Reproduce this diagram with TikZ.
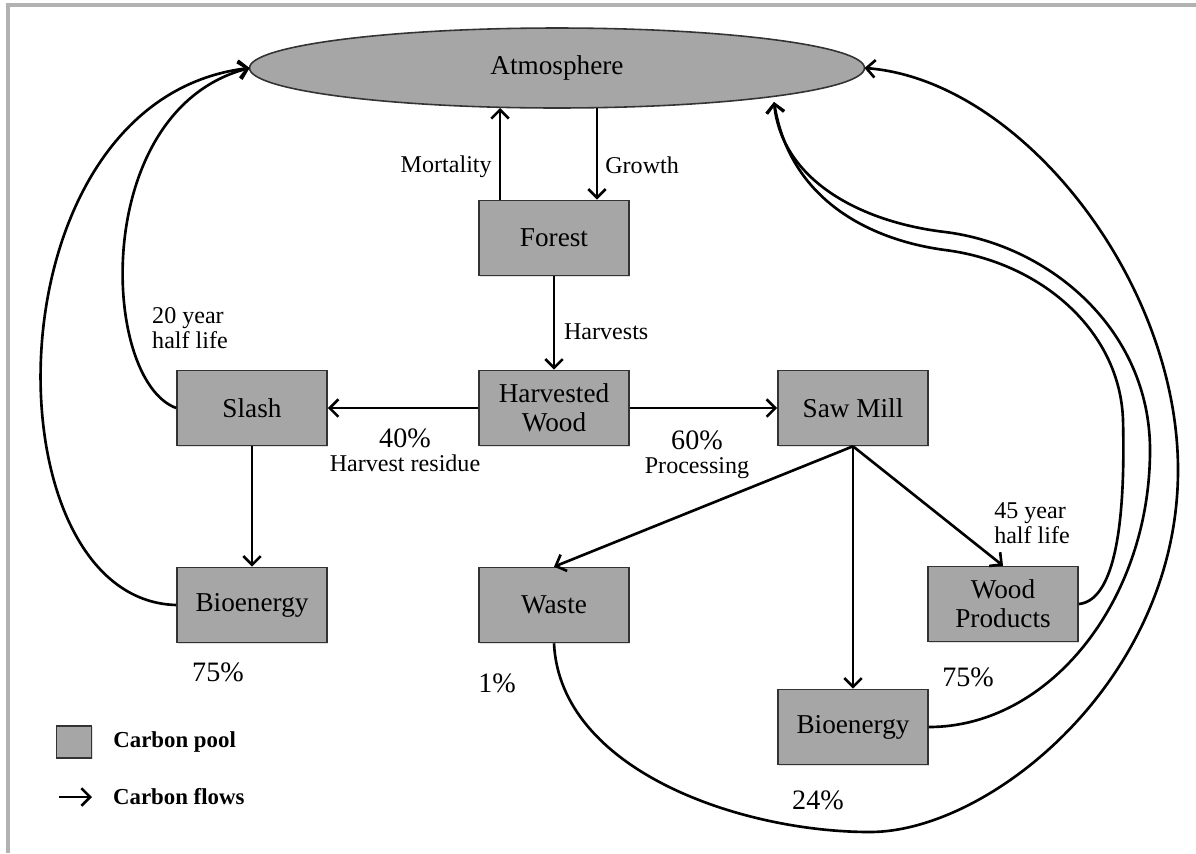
\documentclass[tikz,border=0pt]{standalone}
\usepackage{fontspec}
\setmainfont{Liberation Serif}
\usetikzlibrary{positioning,arrows.meta,shapes.geometric,shadows}

\tikzset{
  pool/.style={draw=black!80, fill=black!35, line width=0.9pt, minimum width=3cm,
    minimum height=1.5cm, align=center, font=\fontsize{15.5}{16.5}\selectfont,
    drop shadow={opacity=0.25, shadow xshift=0.7pt, shadow yshift=-0.7pt}},
  flow/.style={-{Straight Barb[length=5pt,width=10pt]}, line width=1.5pt},
  note/.style={font=\fontsize{13.7}{14.5}\selectfont, align=left, inner sep=1pt},
  pct/.style={font=\fontsize{16}{18}\selectfont, inner sep=1pt},
  legendtext/.style={font=\bfseries\fontsize{13}{15}\selectfont, inner sep=1pt},
}

\begin{document}
\begin{tikzpicture}[x=0.02cm,y=-0.02cm]
  \useasboundingbox (0,0) rectangle (1196,853);
  \draw[black!30, line width=2pt] (8,853) -- (8,5) -- (1196,5);

  % carbon pools
  \node[ellipse, draw=black!80, fill=black!35, line width=0.9pt, outer sep=0pt,
    minimum width=12.3cm, minimum height=1.6cm,
    font=\fontsize{15.5}{16.5}\selectfont] (atm) at (557,68) {Atmosphere};
  \node[pool] (forest) at (554,238) {Forest};
  \node[pool] (hwood) at (554,408) {Harvested\\Wood};
  \node[pool] (slash) at (252,408) {Slash};
  \node[pool] (sawmill) at (853,408) {Saw Mill};
  \node[pool] (bioleft) at (252,605) {Bioenergy};
  \node[pool] (waste) at (554,605) {Waste};
  \node[pool] (products) at (1003,604) {Wood\\Products};
  \node[pool] (bioright) at (853,727) {Bioenergy};

  % flows
  \draw[flow] ([xshift=-1.08cm]forest.north) -- ([xshift=-1.08cm]forest.north |- atm.south)
    node[pos=0.36, left=3pt, note] (mort) {Mortality};
  \draw[flow] ([xshift=0.86cm]forest.north |- atm.south) -- ([xshift=0.86cm]forest.north)
    node[pos=0.62, right=3pt, note] (grow) {Growth};
  \draw[flow] (forest) -- (hwood) node[pos=0.59, right=4pt, note] (harv) {Harvests};
  \draw[flow] (hwood) -- (slash);
  \draw[flow] (hwood) -- (sawmill);
  \draw[flow] (slash) -- (bioleft);
  \draw[flow] (sawmill.south) -- (waste.north);
  \draw[flow] (sawmill) -- (bioright);
  \draw[flow] (sawmill.south) -- (products.north);

  % back to the atmosphere
  \coordinate (atmin) at (774,102);
  \draw[flow] (slash.west) .. controls (100,380) and (90,110) .. (atm.west);
  \draw[flow] (bioleft.west) .. controls (-15,600) and (-15,100) .. (atm.west);
  \draw[flow] (products.east) .. controls (1120,600) and (1125,500) .. (1123,420)
    .. controls (1120,330) and (1040,262) .. (945,250)
    .. controls (870,240) and (790,200) .. (atmin);
  \draw[flow] (bioright.east) .. controls (1050,727) and (1150,600) .. (1150,450)
    .. controls (1150,330) and (1050,245) .. (945,232)
    .. controls (860,222) and (782,180) .. (atmin);
  \draw[flow] (waste.south) .. controls (560,770) and (740,832) .. (870,832)
    .. controls (990,832) and (1178,680) .. (1178,470)
    .. controls (1178,280) and (1020,80) .. (atm.east);

  % labels
  \node[pct] (p40) at (405,438) {40\%};
  \node[note, below=2pt of p40] (hres) {Harvest residue};
  \node[pct] (p60) at (697,440) {60\%};
  \node[note, below=2pt of p60] (proc) {Processing};
  \node[note] (half20) at (190,328) {20 year\\half life};
  \node[note] (half45) at (1032,523) {45 year\\half life};
  \node[pct] (p75a) at (218,672) {75\%};
  \node[pct] (p1) at (497,683) {1\%};
  \node[pct] (p75b) at (968,677) {75\%};
  \node[pct] (p24) at (818,800) {24\%};

  % legend
  \node[pool, minimum width=0.7cm, minimum height=0.65cm] (legpool) at (74,742) {};
  \node[legendtext, right=0.38cm of legpool] (legpooltxt) {Carbon pool};
  \coordinate (legA) at (59,797);
  \coordinate (legB) at (92,797);
  \draw[flow] (legA) -- (legB);
  \node[legendtext, right=0.38cm of legB] (legflowtxt) {Carbon flows};
\end{tikzpicture}
\end{document}
